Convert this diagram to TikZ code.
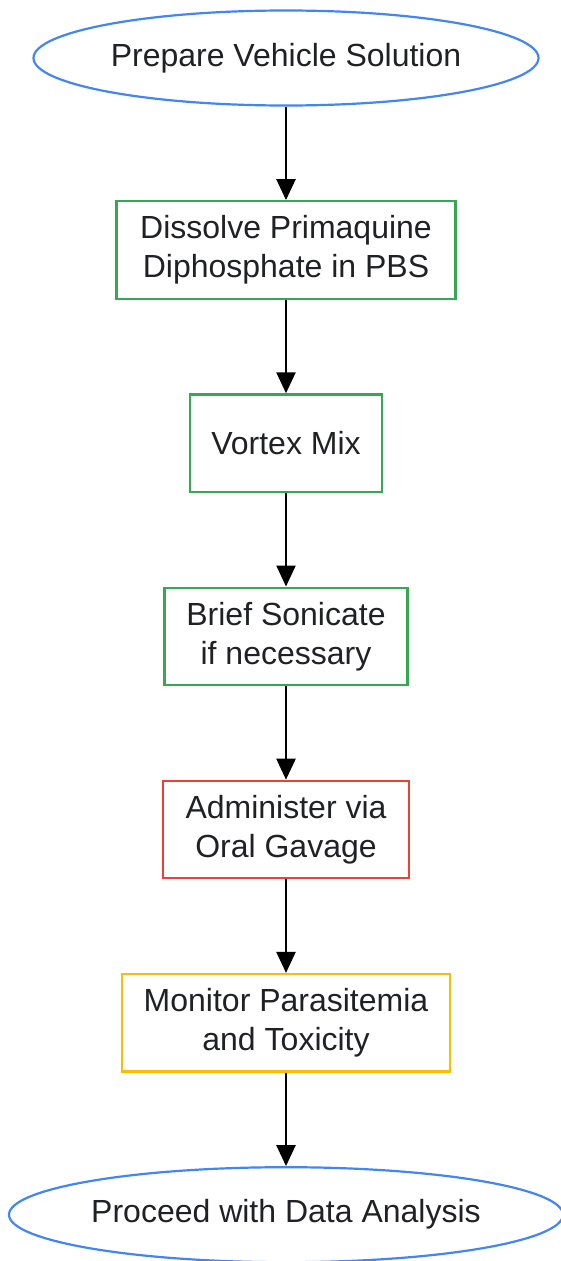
\documentclass[tikz,border=0pt]{standalone}
\usepackage{fontspec}
\setmainfont{Liberation Sans}
\usetikzlibrary{arrows.meta,positioning,shapes.geometric}
\definecolor{gblue}{HTML}{4285F4}
\definecolor{ggreen}{HTML}{34A853}
\definecolor{gred}{HTML}{EA4335}
\definecolor{gyellow}{HTML}{FBBC05}
\definecolor{ink}{HTML}{202124}

\begin{document}
\begin{tikzpicture}[
    node distance=93.5pt,
    every node/.style={font=\fontsize{32}{39}\selectfont, text=ink, align=center, line width=2.2pt},
    term/.style={ellipse, draw=gblue, inner sep=0pt, minimum height=95pt},
    stepbox/.style={rectangle, draw=#1, inner sep=0pt, minimum height=97.5pt},
    flow/.style={-{Triangle[length=21pt,width=19pt]}, line width=2.4pt, black}
  ]
  \useasboundingbox (0pt,0pt) rectangle (560pt,-1261pt);

  \node[term, minimum width=505pt] (start) at (286pt,-58pt) {Prepare Vehicle Solution};
  \node[stepbox=ggreen, minimum width=339pt, below=of start] (dissolve) {Dissolve Primaquine\\Diphosphate in PBS};
  \node[stepbox=ggreen, minimum width=192pt, below=of dissolve] (vortex) {Vortex Mix};
  \node[stepbox=ggreen, minimum width=243pt, below=of vortex] (sonic) {Brief Sonicate\\if necessary};
  \node[stepbox=gred, minimum width=246pt, below=of sonic] (gavage) {Administer via\\Oral Gavage};
  \node[stepbox=gyellow, minimum width=328pt, below=of gavage] (monitor) {Monitor Parasitemia\\and Toxicity};
  \node[term, minimum width=554pt, below=of monitor] (finish) {Proceed with Data Analysis};

  \draw[flow] (start) -- (dissolve);
  \draw[flow] (dissolve) -- (vortex);
  \draw[flow] (vortex) -- (sonic);
  \draw[flow] (sonic) -- (gavage);
  \draw[flow] (gavage) -- (monitor);
  \draw[flow] (monitor) -- (finish);
\end{tikzpicture}
\end{document}
